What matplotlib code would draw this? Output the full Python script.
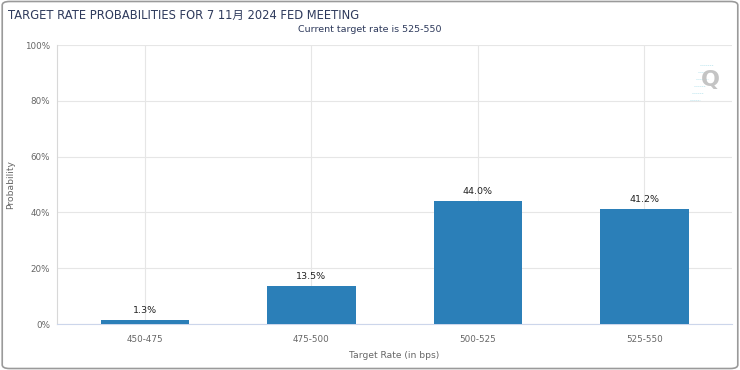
import matplotlib.pyplot as plt
from matplotlib.patches import FancyBboxPatch
import numpy as np

plt.rcParams['font.family'] = ['DejaVu Sans', 'Noto Sans CJK SC']

# data
rates = ['450-475', '475-500', '500-525', '525-550']
probs = [1.3, 13.5, 44.0, 41.2]
yticks = [0, 20, 40, 60, 80, 100]

fig = plt.figure(figsize=(7.4, 3.7), dpi=100)
fig.patch.set_facecolor('white')

# outer frame
frame = FancyBboxPatch((0.003, 0.004), 0.994, 0.992, boxstyle='round,pad=0,rounding_size=0.01',
                       transform=fig.transFigure, fill=False, edgecolor='#9a9a9a', linewidth=1.2)
fig.patches.append(frame)

ax = fig.add_axes([57/740, 1 - 324/370, 675/740, 279/370])
x = np.arange(len(rates))
bars = ax.bar(x, probs, width=0.53, color='#2b7fb8', zorder=3)

for xi, p in zip(x, probs):
    ax.text(xi, p + 1.8, f'{p:.1f}%', ha='center', va='bottom', fontsize=6.8, color='#222222', zorder=4)

ax.set_xlim(-0.528, 3.526)
ax.set_ylim(0, 100)
ax.set_xticks(x)
ax.set_xticklabels(rates)
ax.set_yticks(yticks)
ax.set_yticklabels([f'{t}%' for t in yticks])
ax.tick_params(axis='both', length=0, labelsize=6.3, labelcolor='#666666')
ax.tick_params(axis='x', pad=8)
ax.tick_params(axis='y', pad=5)

ax.grid(True, color='#e6e6e6', linewidth=0.8, zorder=0)
for side in ['top', 'right']:
    ax.spines[side].set_visible(False)
ax.spines['left'].set_color('#d8d8d8')
ax.spines['bottom'].set_color('#ccd6eb')

ax.set_xlabel('Target Rate (in bps)', fontsize=6.6, color='#666666', labelpad=5)
ax.set_ylabel('Probability', fontsize=6.6, color='#666666')
ax.yaxis.set_label_coords(-(57 - 15) / 675, 0.5)

fig.text(8/740, 1 - 15/370, 'TARGET RATE PROBABILITIES FOR 7 11月 2024 FED MEETING',
         fontsize=8.3, color='#2e3a5c', va='center', ha='left',
         family=['DejaVu Sans', 'Noto Sans CJK SC'])
fig.text(370/740, 1 - 30/370, 'Current target rate is 525-550',
         fontsize=6.8, color='#2e3a5c', va='center', ha='center')

# watermark logo
fig.text(710/740, 1 - 80/370, 'Q', fontsize=16, fontweight='bold', color='#c4c4c4',
         ha='center', va='center')
for i in range(6):
    fig.lines.append(plt.Line2D([(690 + i * 2) / 740, (700 + i * 2.5) / 740],
                                [1 - (100 - i * 7) / 370, 1 - (100 - i * 7) / 370],
                                transform=fig.transFigure, color='#bfe6ef', linewidth=0.7,
                                linestyle=(0, (1, 1))))

plt.savefig('out.png', dpi=100)
